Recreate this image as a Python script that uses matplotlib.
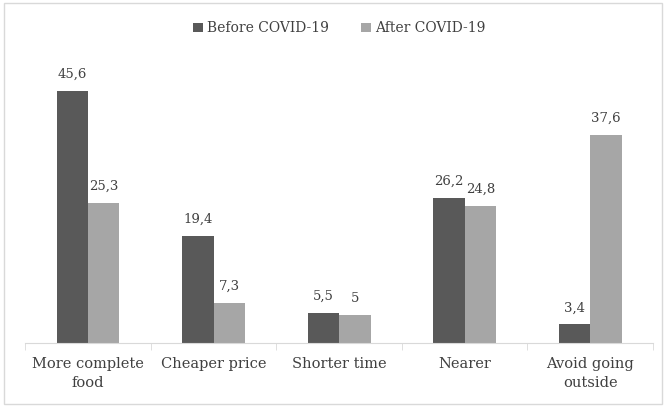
import numpy as np
from matplotlib import pyplot as plt
from matplotlib.patches import Rectangle

CATEGORIES = ["More complete\nfood", "Cheaper price", "Shorter time", "Nearer", "Avoid going\noutside"]
BEFORE = [45.6, 19.4, 5.5, 26.2, 3.4]
AFTER = [25.3, 7.3, 5.0, 24.8, 37.6]
SERIES = ["Before COVID-19", "After COVID-19"]

DARK = "#595959"
LIGHT = "#a6a6a6"
TEXT = "#404040"
GRID = "#d9d9d9"

plt.rcParams["font.family"] = ["DejaVu Serif"]


def _label(v: float) -> str:
    return f"{v:g}".replace(".", ",")


fig = plt.figure(figsize=(6.65, 4.07), dpi=100)
fig.patches.append(Rectangle((0.006, 0.008), 0.989, 0.985, transform=fig.transFigure,
                             fill=False, edgecolor=GRID, linewidth=1.0))
ax = fig.add_axes([0.038, 0.157, 0.944, 0.68])

x = np.arange(len(CATEGORIES))
w = 0.25
b1 = ax.bar(x - w / 2, BEFORE, w, color=DARK, label=SERIES[0])
b2 = ax.bar(x + w / 2, AFTER, w, color=LIGHT, label=SERIES[1])
for bars, vals in ((b1, BEFORE), (b2, AFTER)):
    for rect, v in zip(bars, vals):
        ax.text(rect.get_x() + rect.get_width() / 2, v + 1.8, _label(v),
                ha="center", va="bottom", fontsize=9.5, color=TEXT)

ax.set_xlim(-0.5, len(CATEGORIES) - 0.5)
ax.set_ylim(0, 50)
ax.set_yticks([])
ax.set_xticks(x)
ax.set_xticklabels(CATEGORIES, fontsize=10.5, color=TEXT, linespacing=1.45)
ax.set_xticks(np.arange(len(CATEGORIES) + 1) - 0.5, minor=True)
ax.tick_params(axis="x", which="major", length=0, pad=10)
ax.tick_params(axis="x", which="minor", length=5, color=GRID, direction="out")
for side in ("top", "right", "left"):
    ax.spines[side].set_visible(False)
ax.spines["bottom"].set_color(GRID)

fig.legend(loc="upper center", bbox_to_anchor=(0.51, 0.978), ncol=2, frameon=False,
           fontsize=10, labelcolor=TEXT, handlelength=0.7, handleheight=0.7,
           handletextpad=0.3, columnspacing=2.3)

fig.savefig("out.png", dpi=100)
